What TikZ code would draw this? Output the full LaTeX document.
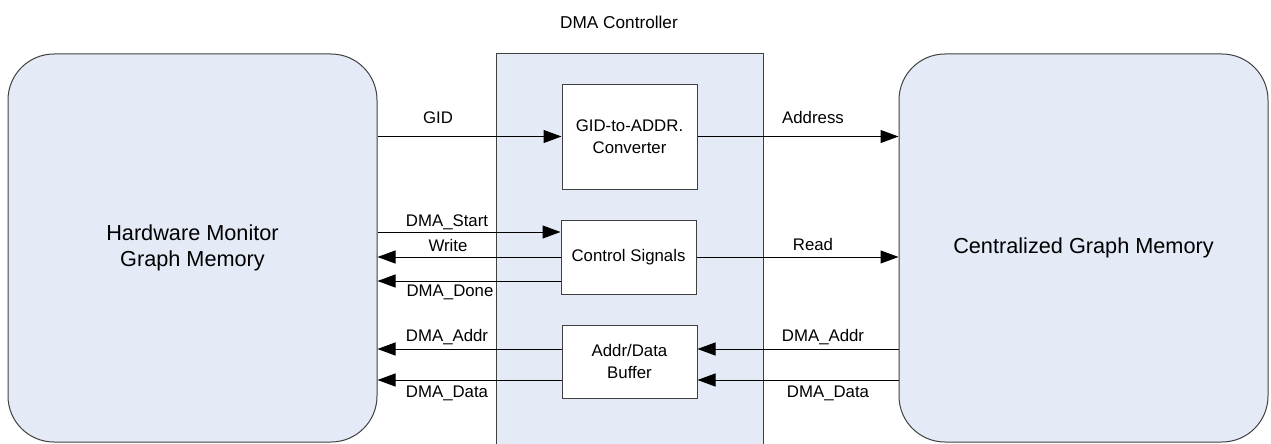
\documentclass[tikz,border=0pt]{standalone}
\usepackage{fontspec}
\setmainfont{Liberation Sans}
\usetikzlibrary{arrows.meta,calc}
\definecolor{memfill}{RGB}{228,235,247}
\definecolor{edgegray}{RGB}{64,64,64}
\begin{document}
\begin{tikzpicture}[x=1pt,y=-1pt,
  mem/.style={draw=edgegray,line width=1pt,fill=memfill,rounded corners=46pt,
    minimum width=369pt,minimum height=388pt,inner sep=0pt,align=center,
    font=\fontsize{21.7}{25.5}\selectfont},
  unit/.style={draw=edgegray,line width=1pt,fill=white,minimum width=135pt,
    inner sep=0pt,align=center,font=\fontsize{16.8}{21.5}\selectfont},
  sig/.style={font=\fontsize{16.8}{19}\selectfont,inner sep=0pt},
  arr/.style={line width=1pt,-{Triangle[length=18pt,width=13pt]}}]
\useasboundingbox (0,0) rectangle (1271,444);
% DMA controller region (open at the bottom)
\fill[memfill] (496,54) rectangle (763,444);
\draw[edgegray,line width=1pt] (496,444) -- (496,54) -- (763,54) -- (763,444);
\node[font=\fontsize{17.2}{20}\selectfont] (dmac) at (619,22) {DMA Controller};
% memories
\node[mem] (hm) at (192.5,248) {Hardware Monitor\\Graph Memory};
\node[mem] (cg) at (1083.5,248) {Centralized Graph Memory};
% units
\node[unit,minimum height=105pt] (conv) at (629.5,136.5) {GID-to-ADDR.\\Converter};
\node[unit,minimum height=74pt] (cs) at (628.5,257) {Control Signals};
\node[unit,minimum height=73pt] (buf) at (629.5,361.5) {Addr/Data\\Buffer};
% connectors
\draw[arr] (hm.east |- conv.west) -- (conv.west);
\draw[arr] (conv.east) -- (conv.east -| cg.west);
\draw[arr] (hm.east |- 0,232) -- (cs.west |- 0,232);
\draw[arr] (cs.west) -- (cs.west -| hm.east);
\draw[arr] (cs.west |- 0,281) -- (hm.east |- 0,281);
\draw[arr] (cs.east) -- (cs.east -| cg.west);
\draw[arr] (buf.west |- 0,349) -- (hm.east |- 0,349);
\draw[arr] (buf.west |- 0,380) -- (hm.east |- 0,380);
\draw[arr] (cg.west |- 0,349) -- (buf.east |- 0,349);
\draw[arr] (cg.west |- 0,380) -- (buf.east |- 0,380);
% labels
\node[sig] (lgid) at (438,118) {GID};
\node[sig] (laddr) at (813,117) {Address};
\node[sig] (lstart) at (447,222) {DMA\_Start};
\node[sig] (lwrite) at (448,245) {Write};
\node[sig] (ldone) at (450,292) {DMA\_Done};
\node[sig] (lread) at (813,244) {Read};
\node[sig] (lla) at (447,337) {DMA\_Addr};
\node[sig] (lld) at (447,393) {DMA\_Data};
\node[sig] (lra) at (823,337) {DMA\_Addr};
\node[sig] (lrd) at (828,393) {DMA\_Data};
\end{tikzpicture}
\end{document}
